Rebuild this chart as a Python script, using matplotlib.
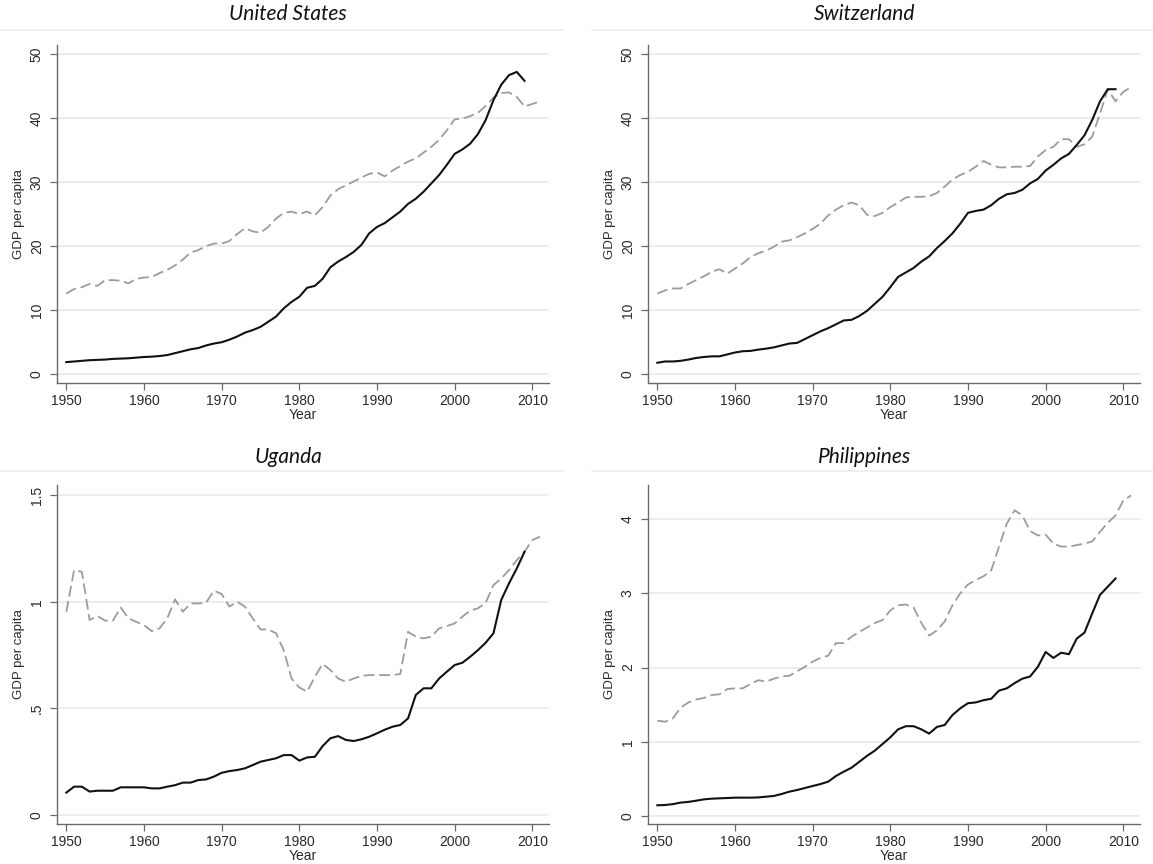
import numpy as np
import matplotlib
matplotlib.use("Agg")
import matplotlib.pyplot as plt
from matplotlib.lines import Line2D

plt.rcParams['font.family'] = ['Liberation Sans', 'DejaVu Sans']

years_solid = list(range(1950, 2010))
years_dash = list(range(1950, 2012))

# United States
us_solid = [1.9, 2.0, 2.1, 2.2, 2.25, 2.3, 2.4, 2.45, 2.5, 2.6, 2.7, 2.75, 2.85, 3.0, 3.3,
            3.6, 3.9, 4.1, 4.5, 4.8, 5.0, 5.4, 5.9, 6.5, 6.9, 7.4, 8.2, 9.0, 10.3, 11.3,
            12.1, 13.5, 13.8, 14.9, 16.7, 17.6, 18.3, 19.1, 20.2, 22.0, 23.0, 23.6, 24.5, 25.4, 26.6,
            27.4, 28.5, 29.8, 31.1, 32.7, 34.4, 35.1, 36.0, 37.5, 39.7, 42.8, 45.2, 46.7, 47.2, 45.8]
us_dash = [12.6, 13.3, 13.6, 14.1, 13.8, 14.7, 14.7, 14.6, 14.2, 14.9, 15.1, 15.2, 15.8, 16.3, 17.0,
           17.9, 19.0, 19.4, 20.0, 20.4, 20.4, 20.8, 21.9, 22.8, 22.3, 22.1, 23.0, 24.3, 25.2, 25.4,
           25.0, 25.4, 24.8, 26.1, 27.9, 28.9, 29.5, 30.1, 30.7, 31.3, 31.5, 30.9, 31.8, 32.5, 33.2,
           33.7, 34.6, 35.5, 36.6, 38.1, 39.8, 39.9, 40.3, 40.8, 41.9, 43.2, 43.9, 44.0, 43.3, 41.8,
           42.2, 42.6]

# Switzerland
ch_solid = [1.8, 2.0, 2.0, 2.1, 2.3, 2.55, 2.7, 2.8, 2.8, 3.1, 3.4, 3.6, 3.65, 3.85, 4.0,
            4.2, 4.5, 4.8, 4.9, 5.5, 6.1, 6.7, 7.2, 7.8, 8.4, 8.5, 9.1, 9.9, 11.0, 12.1,
            13.6, 15.2, 15.9, 16.6, 17.6, 18.4, 19.7, 20.8, 22.0, 23.5, 25.2, 25.5, 25.7, 26.4, 27.4,
            28.1, 28.3, 28.8, 29.8, 30.5, 31.8, 32.7, 33.7, 34.4, 35.8, 37.3, 39.7, 42.6, 44.5, 44.5]
ch_dash = [12.6, 13.1, 13.4, 13.4, 14.1, 14.7, 15.3, 16.0, 16.4, 15.7, 16.5, 17.3, 18.3, 18.9, 19.3,
           19.9, 20.7, 20.9, 21.4, 22.0, 22.7, 23.5, 24.8, 25.7, 26.4, 26.8, 26.4, 24.9, 24.7, 25.2,
           26.1, 26.8, 27.6, 27.7, 27.7, 27.8, 28.3, 29.3, 30.4, 31.1, 31.6, 32.4, 33.3, 32.7, 32.3,
           32.3, 32.4, 32.4, 32.5, 34.0, 35.0, 35.5, 36.7, 36.7, 35.5, 35.9, 37.1, 40.7, 44.5, 42.6,
           44.1, 44.8]

# Uganda
ug_solid = [0.105, 0.133, 0.133, 0.11, 0.114, 0.114, 0.114, 0.13, 0.13, 0.13, 0.13, 0.125, 0.125, 0.133, 0.14,
            0.152, 0.152, 0.164, 0.167, 0.18, 0.198, 0.206, 0.211, 0.219, 0.234, 0.25, 0.258, 0.266, 0.281, 0.281,
            0.255, 0.27, 0.273, 0.323, 0.36, 0.37, 0.352, 0.347, 0.355, 0.367, 0.383, 0.40, 0.414, 0.422, 0.453,
            0.563, 0.594, 0.594, 0.64, 0.672, 0.703, 0.714, 0.742, 0.773, 0.808, 0.852, 1.008, 1.086, 1.156, 1.234]
ug_dash = [0.953, 1.148, 1.14, 0.914, 0.933, 0.911, 0.911, 0.973, 0.922, 0.906, 0.89, 0.862, 0.875, 0.922, 1.011,
           0.953, 0.992, 0.992, 0.995, 1.052, 1.036, 0.977, 1.0, 0.977, 0.922, 0.87, 0.87, 0.852, 0.773, 0.64,
           0.598, 0.578, 0.648, 0.708, 0.68, 0.64, 0.625, 0.64, 0.652, 0.656, 0.656, 0.656, 0.656, 0.661, 0.859,
           0.836, 0.828, 0.836, 0.875, 0.886, 0.898, 0.93, 0.958, 0.969, 0.995, 1.078, 1.109, 1.148, 1.195, 1.234,
           1.289, 1.305]

# Philippines
ph_solid = [0.144, 0.148, 0.16, 0.18, 0.19, 0.206, 0.224, 0.233, 0.238, 0.242, 0.247, 0.247, 0.247, 0.25, 0.26,
            0.27, 0.296, 0.328, 0.35, 0.377, 0.404, 0.43, 0.462, 0.539, 0.597, 0.65, 0.73, 0.81, 0.88, 0.97,
            1.06, 1.167, 1.21, 1.21, 1.167, 1.11, 1.2, 1.226, 1.36, 1.45, 1.52, 1.53, 1.56, 1.58, 1.69,
            1.72, 1.79, 1.85, 1.88, 2.01, 2.21, 2.13, 2.2, 2.18, 2.39, 2.47, 2.73, 2.98, 3.09, 3.2]
ph_dash = [1.284, 1.27, 1.315, 1.46, 1.53, 1.57, 1.59, 1.63, 1.64, 1.71, 1.72, 1.72, 1.78, 1.83, 1.81,
           1.85, 1.88, 1.89, 1.95, 2.01, 2.08, 2.13, 2.16, 2.33, 2.33, 2.415, 2.48, 2.54, 2.6, 2.64,
           2.77, 2.84, 2.85, 2.81, 2.6, 2.43, 2.5, 2.62, 2.84, 3.0, 3.12, 3.18, 3.23, 3.31, 3.63,
           3.94, 4.12, 4.05, 3.84, 3.78, 3.79, 3.67, 3.63, 3.63, 3.65, 3.67, 3.7, 3.83, 3.95, 4.05,
           4.25, 4.32]

titles = ["United States", "Switzerland", "Uganda", "Philippines"]
x_ticks = [1950, 1960, 1970, 1980, 1990, 2000, 2010]
y_ticks = [[0, 10, 20, 30, 40, 50], [0, 10, 20, 30, 40, 50], [0, 0.5, 1, 1.5], [0, 1, 2, 3, 4]]
y_ticklabels = [["0", "10", "20", "30", "40", "50"], ["0", "10", "20", "30", "40", "50"],
                ["0", ".5", "1", "1.5"], ["0", "1", "2", "3", "4"]]
y_lims = [(-1.36, 51.4), (-1.36, 51.4), (-0.042, 1.547), (-0.108, 4.46)]

W, H = 1153, 864
fig = plt.figure(figsize=(W / 100, H / 100), dpi=100)

# axes boxes in pixels: left, top, right, bottom
boxes = [(57, 45, 549, 383), (648, 45, 1140, 383), (57, 485, 549, 824), (648, 485, 1140, 824)]
data = [(us_solid, us_dash), (ch_solid, ch_dash), (ug_solid, ug_dash), (ph_solid, ph_dash)]
grid_col = "#e6eff1"
axis_col = "#6b6b6b"

for i in range(4):
    l, t, r, b = boxes[i]
    ax = fig.add_axes([l / W, 1 - b / H, (r - l) / W, (b - t) / H])
    solid, dash = data[i]
    ax.plot(years_dash, dash, color="#9c9c9c", lw=1.3, linestyle=(0, (6, 2.6)), zorder=3)
    ax.plot(years_solid, solid, color="#111111", lw=1.5, zorder=4)

    ax.set_xlim(1948.8, 2012.15)
    ax.set_ylim(*y_lims[i])
    ax.set_xticks(x_ticks)
    ax.set_yticks(y_ticks[i])
    ax.set_yticklabels(y_ticklabels[i], rotation=90, va="center")
    ax.grid(axis="y", color=grid_col, lw=1.4, zorder=0)
    ax.set_axisbelow(True)

    for s in ["top", "right"]:
        ax.spines[s].set_visible(False)
    for s in ["left", "bottom"]:
        ax.spines[s].set_color(axis_col)
        ax.spines[s].set_linewidth(1.0)
    ax.tick_params(axis="both", colors=axis_col, length=5, width=0.9, labelsize=10, labelcolor="#2a2a2a")
    ax.tick_params(axis="x", pad=3)
    ax.tick_params(axis="y", pad=4.5)

    ax.set_xlabel("Year", fontsize=10, color="#2a2a2a")
    ax.xaxis.set_label_coords(0.5, -0.075)
    ax.set_ylabel("GDP per capita", fontsize=9.5, color="#2a2a2a")
    ax.yaxis.set_label_coords(-0.066, 0.5)

    # title and the thin rule under it
    cx = 0.25 if i % 2 == 0 else 0.75
    ty = 14 if i < 2 else 457
    fig.text(cx, 1 - ty / H, titles[i], ha="center", va="center", fontsize=15,
             style="italic", family=["Lato", "DejaVu Sans"], color="#111111")
    ly = 30 if i < 2 else 471
    x0, x1 = (0, 563) if i % 2 == 0 else (592, W)
    fig.add_artist(Line2D([x0 / W, x1 / W], [1 - ly / H, 1 - ly / H], color=grid_col, lw=1.2))

plt.savefig("out.png", dpi=100)
